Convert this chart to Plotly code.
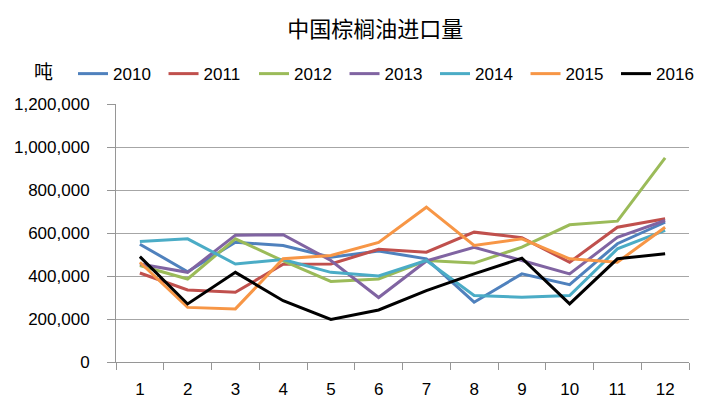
import plotly.graph_objects as go

# monthly palm oil imports, tonnes
months = [str(m) for m in range(1, 13)]
years = ["2010", "2011", "2012", "2013", "2014", "2015", "2016"]

v2010 = [548000, 420000, 557000, 542000, 487000, 516000, 480000, 278000, 410000, 360000, 550000, 650000]
v2011 = [414000, 335000, 324000, 455000, 456000, 524000, 511000, 604000, 578000, 464000, 627000, 666000]
v2012 = [449000, 386000, 573000, 470000, 375000, 386000, 472000, 460000, 534000, 638000, 655000, 949000]
v2013 = [456000, 417000, 590000, 592000, 472000, 300000, 470000, 534000, 472000, 410000, 580000, 658000]
v2014 = [560000, 573000, 456000, 477000, 417000, 400000, 472000, 309000, 301000, 309000, 526000, 612000]
v2015 = [464000, 254000, 247000, 480000, 495000, 556000, 720000, 542000, 573000, 480000, 464000, 627000]
v2016 = [490000, 270000, 417000, 285000, 198000, 242000, 332000, 410000, 483000, 270000, 480000, 503000]

series = [v2010, v2011, v2012, v2013, v2014, v2015, v2016]
colors = ["#4F81BD", "#C0504D", "#9BBB59", "#8064A2", "#4BACC6", "#F79646", "#000000"]

fig = go.Figure()
for name, vals, col in zip(years, series, colors):
    fig.add_trace(go.Scatter(x=months, y=vals, name=name, mode="lines",
                             line=dict(color=col, width=3)))

font_main = "Liberation Sans, Arial"

# the page body adds an 8px offset, margins are set to compensate
fig.update_layout(
    width=705, height=401,
    margin=dict(l=108, r=24, t=96, b=47),
    plot_bgcolor="white", paper_bgcolor="white",
    font=dict(family=font_main, size=17, color="#000000"),
    title=dict(text="中国棕榈油进口量", x=0.521, xanchor="center", y=0.948, yanchor="middle",
               font=dict(family="Noto Sans CJK SC", size=22, color="#000000")),
    legend=dict(orientation="h", x=-0.075, xanchor="left", y=1.116, yanchor="middle",
                font=dict(family=font_main, size=17), entrywidth=45.5,
                itemwidth=30, bgcolor="rgba(0,0,0,0)"),
    xaxis=dict(type="category", range=[-0.5, 11.5], automargin=False,
               showline=True, linecolor="#969696", linewidth=1,
               ticks="outside", tickson="boundaries", ticklen=7, tickcolor="#969696",
               ticklabelstandoff=12, showgrid=False, tickfont=dict(size=17)),
    yaxis=dict(range=[0, 1200000], dtick=200000, tickformat=",d", automargin=False,
               showline=True, linecolor="#969696", linewidth=1,
               ticks="outside", ticklen=8, tickcolor="#969696",
               ticklabelstandoff=14,
               showgrid=True, gridcolor="#A6A6A6", gridwidth=1,
               zeroline=False, tickfont=dict(size=17)),
)

fig.add_annotation(text="吨", xref="paper", yref="paper", x=-0.127, y=1.129,
                   xanchor="center", yanchor="middle", showarrow=False,
                   font=dict(family="Noto Sans CJK SC", size=19, color="#000000"))

fig.write_html("out.html")
